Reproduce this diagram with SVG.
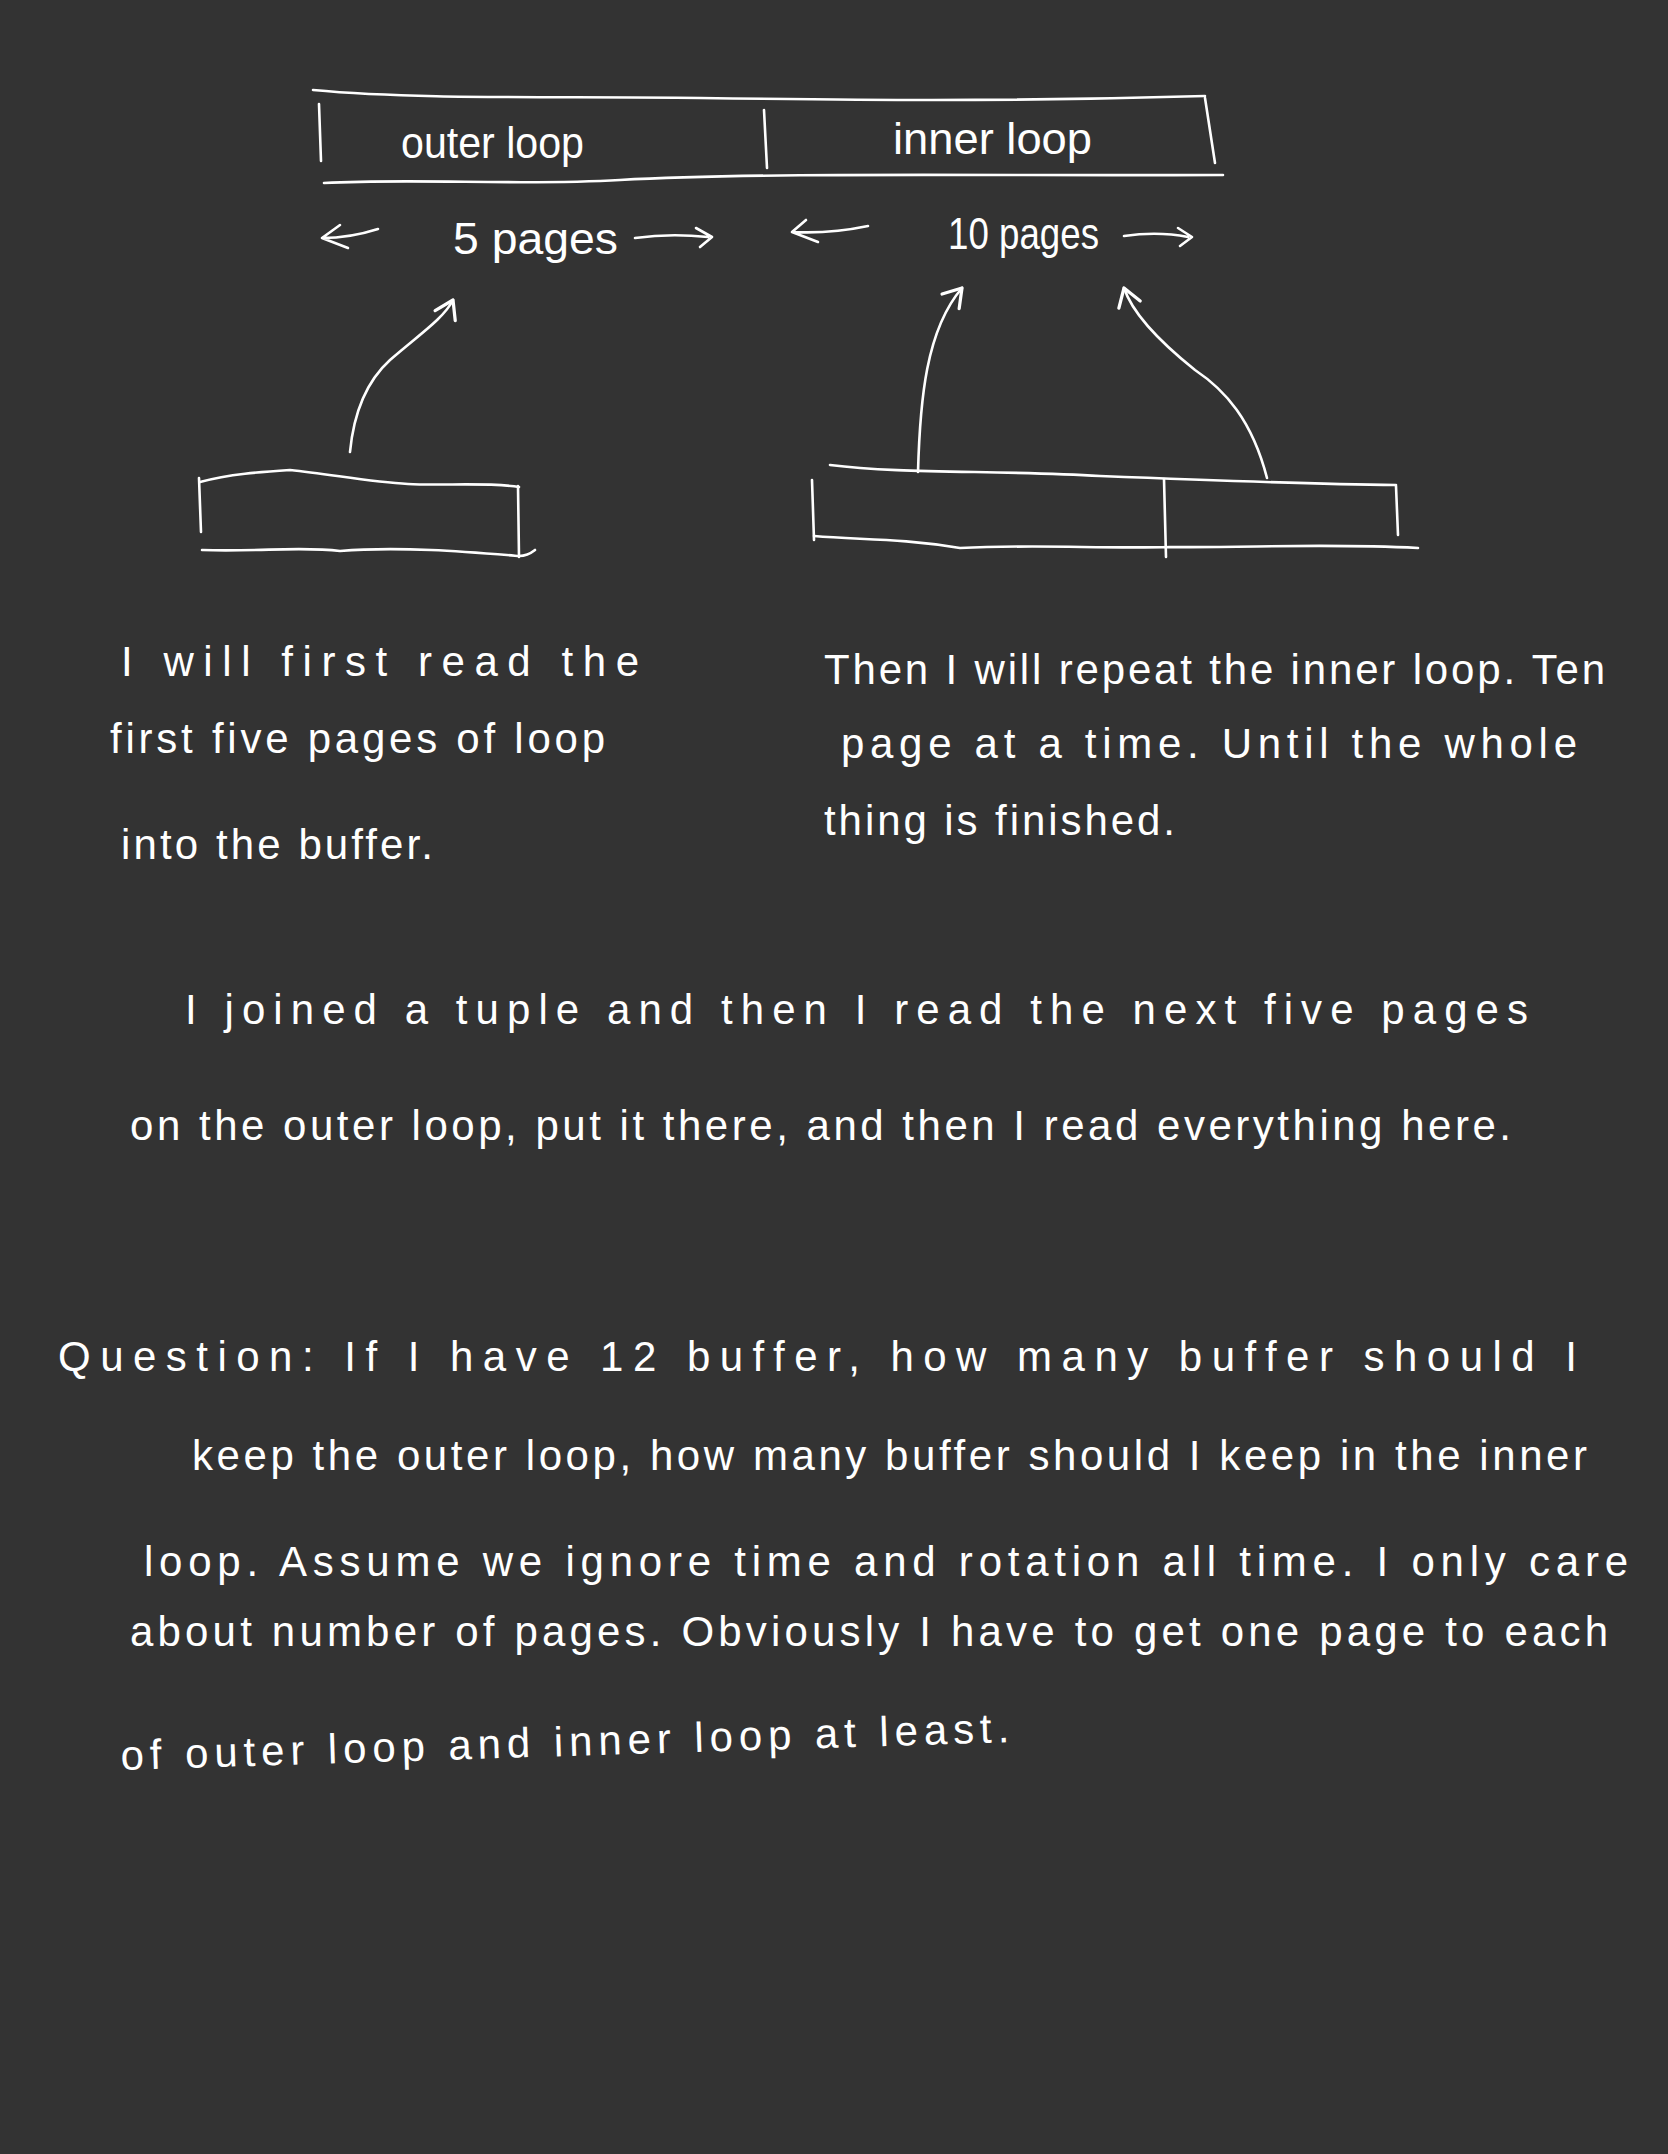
<svg xmlns="http://www.w3.org/2000/svg" width="1668" height="2154" viewBox="0 0 1668 2154">
<style>
.s{fill:none;stroke:#ffffff;stroke-width:2.6;stroke-linecap:round;stroke-linejoin:round}
.t{fill:#ffffff;font-family:"Liberation Sans","DejaVu Sans",sans-serif;font-size:42px}
.lb{fill:#ffffff;font-family:"Liberation Sans","DejaVu Sans",sans-serif;font-size:44px}
</style>
<defs>
<marker id="head" markerUnits="userSpaceOnUse" markerWidth="30" markerHeight="30" refX="0" refY="0" viewBox="-16 -12 20 24" orient="auto" overflow="visible">
<path d="M-14,-9 L0,0 L-14,9" fill="none" stroke="#ffffff" stroke-width="2.6" stroke-linecap="round" stroke-linejoin="round"/>
</marker>
</defs>
<rect width="1668" height="2154" fill="#333333"/>
<g id="loop-box">
<path class="s" d="M313,90 C420,100 560,96 700,98 C850,100 1000,102 1205,96"/>
<path class="s" d="M319,104 L321,161"/>
<path class="s" d="M324,183 C420,178 520,186 620,180 C760,172 1000,176 1223,175"/>
<path class="s" d="M1205,98 L1215,163"/>
<path class="s" d="M764,110 L767,168"/>
<text class="lb" x="401" y="158" textLength="183" lengthAdjust="spacingAndGlyphs">outer loop</text>
<text class="lb" x="893" y="154" textLength="199" lengthAdjust="spacingAndGlyphs">inner loop</text>
</g>
<g id="outer-pages">
<path class="s" d="M378,229 Q350,238 322,238 M322,238 L340,225 M322,238 L348,248"/>
<text class="lb" x="453" y="254" textLength="165" lengthAdjust="spacingAndGlyphs">5 pages</text>
<path class="s" d="M635,238 Q670,233 708,237 M696,228 L712,237 L700,247"/>
</g>
<g id="inner-pages">
<path class="s" d="M868,226 Q830,234 792,232 M792,232 L806,220 M792,232 L818,242"/>
<text class="lb" x="948" y="249" textLength="151" lengthAdjust="spacingAndGlyphs">10 pages</text>
<path class="s" d="M1124,236 Q1158,231 1188,237 M1178,228 L1192,237 L1180,246"/>
</g>
<g id="outer-buffer">
<path class="s" d="M200,482 C230,474 260,472 290,470 C330,474 370,482 408,484 C440,486 490,482 519,487"/>
<path class="s" d="M199,478 L201,532"/>
<path class="s" d="M202,550 C260,552 300,546 340,551 C400,546 470,552 519,556 C525,556 530,554 535,550"/>
<path class="s" d="M518,486 L519,557"/>
</g>
<g id="inner-buffer">
<path class="s" d="M830,465 C900,474 1000,470 1100,476 C1200,480 1300,484 1396,485"/>
<path class="s" d="M812,480 L814,540"/>
<path class="s" d="M814,536 C860,540 900,538 960,548 C1040,544 1100,549 1170,547 C1250,548 1320,543 1418,548"/>
<path class="s" d="M1396,486 L1398,535"/>
<path class="s" d="M1164,479 L1166,557"/>
</g>
<g id="connectors">
<path class="s" d="M350,452 C354,410 368,380 390,360 C420,334 444,318 453,300" marker-end="url(#head)"/>
<path class="s" d="M918,472 C920,400 926,330 962,288" marker-end="url(#head)"/>
<path class="s" d="M1267,478 C1252,420 1225,390 1195,370 C1155,338 1132,312 1124,288" marker-end="url(#head)"/>
</g>
<g id="note-left">
<text class="t" x="121" y="676" textLength="518" lengthAdjust="spacing">I will first read the</text>
<text class="t" x="110" y="753" textLength="495" lengthAdjust="spacing">first five pages of loop</text>
<text class="t" x="121" y="859" textLength="312" lengthAdjust="spacing">into the buffer.</text>
</g>
<g id="note-right">
<text class="t" x="824" y="684" textLength="781" lengthAdjust="spacing">Then I will repeat the inner loop. Ten</text>
<text class="t" x="841" y="758" textLength="736" lengthAdjust="spacing">page at a time. Until the whole</text>
<text class="t" x="824" y="835" textLength="351" lengthAdjust="spacing">thing is finished.</text>
</g>
<g id="note-middle">
<text class="t" x="185" y="1024" textLength="1343" lengthAdjust="spacing">I joined a tuple and then I read the next five pages</text>
<text class="t" x="130" y="1140" textLength="1381" lengthAdjust="spacing">on the outer loop, put it there, and then I read everything here.</text>
</g>
<g id="question">
<text class="t" x="58" y="1371" textLength="1519" lengthAdjust="spacing">Question: If I have 12 buffer, how many buffer should I</text>
<text class="t" x="192" y="1470" textLength="1395" lengthAdjust="spacing">keep the outer loop, how many buffer should I keep in the inner</text>
<text class="t" x="144" y="1576" textLength="1484" lengthAdjust="spacing">loop. Assume we ignore time and rotation all time. I only care</text>
<text class="t" x="130" y="1646" textLength="1478" lengthAdjust="spacing">about number of pages. Obviously I have to get one page to each</text>
<text class="t" x="121" y="1770" textLength="889" lengthAdjust="spacing" transform="rotate(-1.8 121 1770)">of outer loop and inner loop at least.</text>
</g>
</svg>
